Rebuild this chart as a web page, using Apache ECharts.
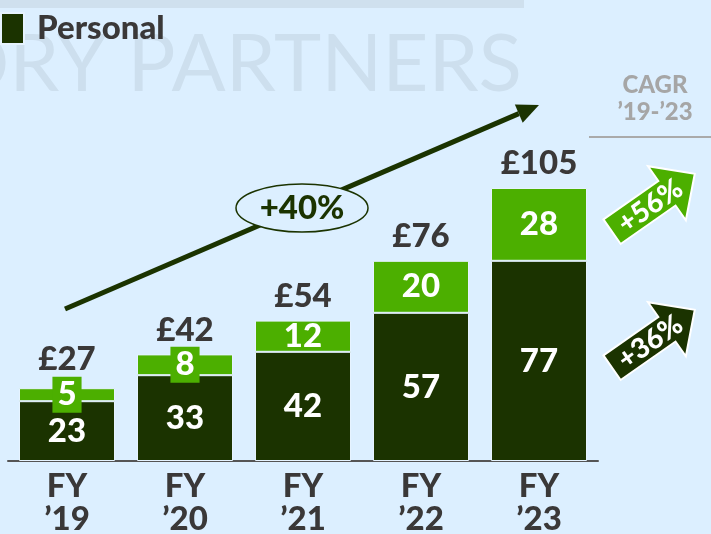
<!DOCTYPE html>
<html>
<head>
<meta charset="utf-8">
<script src="https://cdn.jsdelivr.net/npm/echarts@6/dist/echarts.min.js"></script>
<style>
  html, body { margin: 0; padding: 0; background: #dcefff; }
  #chart { width: 711px; height: 534px; }
</style>
</head>
<body>
<div id="chart"></div>
<script>
const years = ['FY\n’19', 'FY\n’20', 'FY\n’21', 'FY\n’22', 'FY\n’23'];
const personal = [23, 33, 42, 57, 77];
const other = [5, 8, 12, 20, 28];
const totalLabels = ['£27', '£42', '£54', '£76', '£105'];

const DARK = '#1b3300';
const LIGHT = '#4caf00';
const TEXT = '#3a3838';
const BG = '#dcefff';
const FONT = 'Lato';
const W = 900;

const chart = echarts.init(document.getElementById('chart'));

// rotated block arrow for the CAGR column
const cagrArrow = (cx, cy, color, text) => ({
  type: 'group',
  x: cx,
  y: cy,
  rotation: 35 * Math.PI / 180,
  children: [
    {
      type: 'polygon',
      shape: {
        points: [[-50, -15], [17, -15], [17, -33], [51, 0], [17, 33], [17, 15], [-50, 15]],
      },
      style: { fill: color, stroke: '#fff', lineWidth: 2 },
    },
    {
      type: 'text',
      x: -4,
      y: 1,
      style: {
        text,
        fill: '#fff',
        font: `${W} 28px ${FONT}`,
        textAlign: 'center',
        textVerticalAlign: 'middle',
      },
    },
  ],
});

// big growth arrow
const tip = [539, 105];
const ang = Math.atan2(202, 472);
const ux = Math.cos(ang);
const uy = -Math.sin(ang);
const base = [tip[0] - 22 * ux, tip[1] - 22 * uy];
const nx = -uy;
const ny = ux;

const numLabel = {
  color: '#fff',
  fontSize: 33,
  fontWeight: W,
  fontFamily: FONT,
};

const option = {
  backgroundColor: BG,
  textStyle: { fontFamily: FONT },
  animation: false,
  legend: {
    data: ['Personal'],
    left: 0,
    top: 12,
    padding: 0,
    icon: 'rect',
    itemWidth: 23,
    itemHeight: 31,
    selectedMode: false,
    textStyle: {
      color: TEXT,
      fontSize: 33,
      lineHeight: 31,
      fontWeight: W,
      fontFamily: FONT,
      padding: [0, 0, 0, 8],
    },
  },
  grid: { left: 8, right: 113, top: 71, bottom: 73, outerBoundsMode: 'none' },
  xAxis: {
    type: 'category',
    data: years,
    axisTick: { show: false },
    axisLine: { lineStyle: { color: '#555', width: 2 } },
    axisLabel: {
      color: TEXT,
      fontSize: 33,
      fontWeight: W,
      fontFamily: FONT,
      lineHeight: 33,
      margin: 9,
    },
  },
  yAxis: {
    type: 'value',
    min: 0,
    max: 150,
    show: false,
    splitLine: { show: false },
  },
  series: [
    {
      name: 'Personal',
      type: 'bar',
      stack: 'aum',
      data: personal,
      barWidth: 96,
      itemStyle: { color: DARK, borderColor: '#e6f3ff', borderWidth: 1 },
      label: { show: true, position: 'inside', ...numLabel },
      silent: true,
    },
    {
      name: 'Other',
      type: 'bar',
      stack: 'aum',
      // thin segments get a green box behind their label
      data: other.map((v) => (v < 10
        ? { value: v, label: { backgroundColor: LIGHT, padding: [2, 5, 1, 5] } }
        : v)),
      barWidth: 96,
      itemStyle: { color: LIGHT, borderColor: '#e6f3ff', borderWidth: 1 },
      label: { show: true, position: 'inside', ...numLabel },
      silent: true,
    },
    {
      name: 'Total',
      type: 'bar',
      data: personal.map((v, i) => ({
        value: v + other[i],
        label: { distance: i === 0 ? 12 : 8 },
      })),
      barWidth: 96,
      barGap: '-100%',
      itemStyle: { color: 'rgba(0,0,0,0)' },
      label: {
        show: true,
        position: 'top',
        color: TEXT,
        fontSize: 33,
        lineHeight: 33,
        fontWeight: W,
        fontFamily: FONT,
        formatter: (p) => totalLabels[p.dataIndex],
      },
      silent: true,
      z: 3,
    },
  ],
  graphic: [
    {
      type: 'rect',
      z: -2,
      shape: { x: 0, y: 0, width: 524, height: 8 },
      style: { fill: '#cfe0ee' },
    },
    {
      type: 'text',
      z: -2,
      x: 522,
      y: 65,
      style: {
        text: 'ORY PARTNERS',
        fill: '#cddfee',
        font: `normal 80px ${FONT}`,
        textAlign: 'right',
        textVerticalAlign: 'middle',
      },
    },
    {
      type: 'line',
      z: 10,
      shape: { x1: 65, y1: 309, x2: base[0], y2: base[1] },
      style: { stroke: DARK, lineWidth: 5 },
    },
    {
      type: 'polygon',
      z: 10,
      shape: {
        points: [tip, [base[0] + 10 * nx, base[1] + 10 * ny], [base[0] - 10 * nx, base[1] - 10 * ny]],
      },
      style: { fill: DARK },
    },
    {
      type: 'ellipse',
      z: 11,
      shape: { cx: 302, cy: 208, rx: 66, ry: 24 },
      style: { fill: BG, stroke: DARK, lineWidth: 1.5 },
    },
    {
      type: 'text',
      z: 12,
      x: 302,
      y: 208,
      style: {
        text: '+40%',
        fill: DARK,
        font: `${W} 33px ${FONT}`,
        textAlign: 'center',
        textVerticalAlign: 'middle',
      },
    },
    {
      type: 'text',
      x: 655,
      y: 85,
      style: {
        text: 'CAGR',
        fill: '#a6a6a6',
        font: `${W} 24px ${FONT}`,
        textAlign: 'center',
        textVerticalAlign: 'middle',
      },
    },
    {
      type: 'text',
      x: 655,
      y: 112,
      style: {
        text: '’19-’23',
        fill: '#a6a6a6',
        font: `${W} 24px ${FONT}`,
        textAlign: 'center',
        textVerticalAlign: 'middle',
      },
    },
    {
      type: 'line',
      shape: { x1: 589, y1: 137, x2: 711, y2: 137 },
      style: { stroke: '#aaaaaa', lineWidth: 2 },
    },
    cagrArrow(653, 203, LIGHT, '+56%'),
    cagrArrow(653, 339, DARK, '+36%'),
  ],
};

chart.setOption(option);
</script>
</body>
</html>
